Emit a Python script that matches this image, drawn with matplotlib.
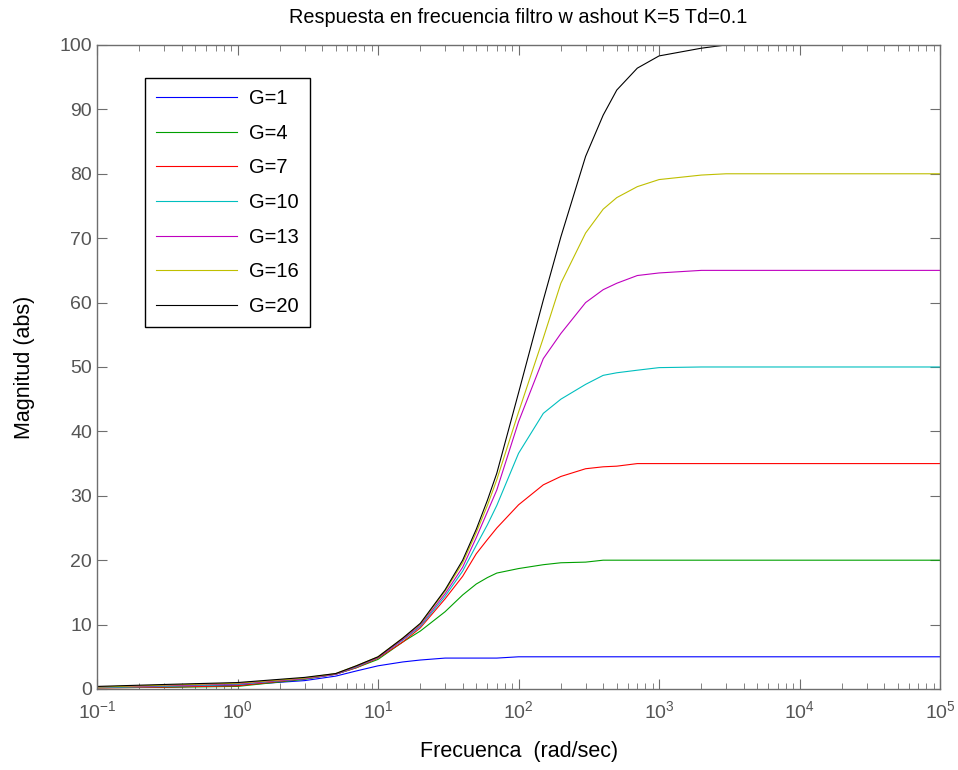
import matplotlib
matplotlib.use("Agg")
import matplotlib.pyplot as plt
from matplotlib.ticker import LogLocator, FixedLocator
import numpy as np

plt.rcParams['font.family'] = ['Liberation Sans', 'DejaVu Sans']
plt.rcParams['mathtext.fontset'] = 'custom'
plt.rcParams['mathtext.rm'] = 'Liberation Sans'

# frequencies (rad/sec)
freq = [0.1, 0.3, 1, 3, 5, 7, 10, 15, 20, 30, 40, 50, 60, 70, 100, 150, 200,
        300, 400, 500, 700, 1000, 2000, 3000, 10000, 100000]

# magnitude (abs) for each gain G
g1 = [0.3, 0.3, 0.6, 1.3, 2.0, 2.8, 3.6, 4.2, 4.5, 4.8, 4.8, 4.8, 4.8, 4.8, 5.0, 5.0, 5.0,
      5.0, 5.0, 5.0, 5.0, 5.0, 5.0, 5.0, 5.0, 5.0]
g4 = [0.2, 0.25, 0.4, 1.5, 2.3, 3.3, 4.6, 7.3, 9.0, 12.0, 14.6, 16.3, 17.3, 18.0, 18.7, 19.3, 19.6,
      19.7, 20.0, 20.0, 20.0, 20.0, 20.0, 20.0, 20.0, 20.0]
g7 = [0.15, 0.3, 0.5, 1.6, 2.3, 3.3, 4.8, 7.3, 9.5, 14.0, 17.5, 21.0, 23.2, 25.0, 28.6, 31.7, 33.0,
      34.2, 34.5, 34.6, 35.0, 35.0, 35.0, 35.0, 35.0, 35.0]
g10 = [0.2, 0.4, 0.7, 1.6, 2.3, 3.4, 4.9, 7.6, 9.7, 14.4, 18.3, 22.3, 25.5, 28.5, 36.6, 42.8, 45.0,
       47.3, 48.7, 49.1, 49.5, 49.9, 50.0, 50.0, 50.0, 50.0]
g13 = [0.3, 0.5, 0.8, 1.6, 2.3, 3.5, 4.9, 7.7, 9.9, 14.8, 18.9, 23.5, 27.5, 30.9, 41.5, 51.3, 55.2,
       60.0, 62.0, 63.0, 64.2, 64.6, 65.0, 65.0, 65.0, 65.0]
g16 = [0.3, 0.6, 0.9, 1.7, 2.4, 3.6, 5.0, 7.9, 10.1, 15.2, 19.6, 24.3, 28.5, 32.5, 43.0, 54.5, 63.0,
       70.8, 74.5, 76.3, 78.0, 79.1, 79.8, 80.0, 80.0, 80.0]
g20 = [0.4, 0.7, 1.0, 1.8, 2.4, 3.6, 5.0, 7.9, 10.2, 15.4, 20.0, 24.8, 29.3, 33.5, 46.0, 60.4, 70.2,
       82.7, 89.1, 93.0, 96.4, 98.3, 99.5, 100.0, 100.0, 100.0]

series = [g1, g4, g7, g10, g13, g16, g20]
labels = ["G=1", "G=4", "G=7", "G=10", "G=13", "G=16", "G=20"]
colors = ["#0000ff", "#00a000", "#ff0000", "#00bfbf", "#bf00bf", "#bfbf00", "#000000"]

fig = plt.figure(figsize=(9.58, 7.70), dpi=100)
ax = fig.add_axes([0.1013, 0.1052, 0.8800, 0.8364])

for y, lab, c in zip(series, labels, colors):
    ax.plot(freq, y, color=c, lw=0.8, label=lab)

ax.set_xscale("log")
ax.set_xlim(0.1, 1e5)
ax.set_ylim(0, 100)
ax.set_yticks(np.arange(0, 101, 10))
ax.xaxis.set_major_locator(FixedLocator([1e-1, 1e0, 1e1, 1e2, 1e3, 1e4, 1e5]))
ax.xaxis.set_minor_locator(LogLocator(base=10, subs=np.arange(2, 10), numticks=20))

grey = "#6e6e6e"
for s in ax.spines.values():
    s.set_color(grey)
    s.set_linewidth(1.0)
ax.tick_params(which="both", direction="in", top=True, right=True, color=grey,
               labelcolor="#555555", labelsize=14)
ax.tick_params(which="major", length=7)
ax.tick_params(which="minor", length=4)
ax.tick_params(axis="x", pad=8)

ax.set_xlabel("Frecuenca  (rad/sec)", fontsize=15.5, labelpad=14)
ax.set_ylabel("Magnitud (abs)", fontsize=15.5, labelpad=18)
ax.set_title("Respuesta en frecuencia filtro w ashout K=5 Td=0.1", fontsize=14.3, pad=16)

leg = ax.legend(loc="upper left", bbox_to_anchor=(0.057, 0.949), fontsize=14.5,
                handlelength=4.0, labelspacing=0.78, borderpad=0.55, handletextpad=0.6,
                fancybox=False, framealpha=1, edgecolor="black", borderaxespad=0)
leg.get_frame().set_linewidth(1.0)

fig.savefig("out.png", dpi=100)
